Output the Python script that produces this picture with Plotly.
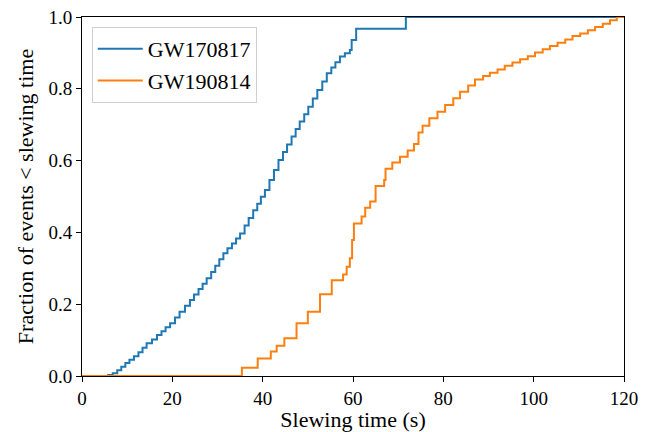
import plotly.graph_objects as go

# GW170817: step corners (slewing time s, cumulative fraction)
gw170817_t = [0, 4.8, 5.8, 6.8, 7.8, 8.7, 9.6, 10.5, 11.5, 12.5, 13.4, 14.3, 15.5, 16.6, 17.6, 18.5, 19.5,
              20.6, 21.6, 22.8, 23.9, 24.8, 25.8, 26.7, 27.6, 28.6, 29.5, 30.4, 31.3, 32.2, 33.2, 34.1, 35.0,
              36.0, 36.9, 37.9, 38.8, 39.6, 40.5, 41.5, 42.5, 43.5, 44.5, 45.4, 46.4, 47.3, 48.2, 49.2, 50.1,
              51.1, 52.1, 53.2, 54.2, 55.2, 56.1, 57.1, 58.2, 59.3, 59.7, 60.7, 71.7, 120]
gw170817_f = [0, 0, 0.003, 0.008, 0.016, 0.026, 0.036, 0.045, 0.055, 0.066, 0.079, 0.091, 0.102, 0.114, 0.125, 0.136, 0.147,
              0.163, 0.179, 0.196, 0.212, 0.227, 0.242, 0.257, 0.272, 0.290, 0.307, 0.325, 0.342, 0.356, 0.369, 0.383, 0.397,
              0.419, 0.440, 0.462, 0.480, 0.499, 0.518, 0.546, 0.574, 0.602, 0.624, 0.645, 0.667, 0.688, 0.709, 0.729, 0.750,
              0.773, 0.797, 0.820, 0.843, 0.859, 0.874, 0.890, 0.899, 0.908, 0.936, 0.967, 1.0, 1.0]

# GW190814
gw190814_t = [0, 35.4, 38.9, 41.8, 43.1, 44.8, 47.5, 50.0, 52.7, 55.3, 57.8, 58.6, 59.3, 59.8, 60.2,
              61.9, 62.7, 63.8, 65.0, 66.9, 67.2, 68.7, 70.4, 72.1, 73.5, 74.5, 75.4, 76.9, 78.7,
              80.4, 82.2, 83.7, 85.5, 87.0, 88.8, 90.3, 92.0, 93.6, 95.3, 97.0, 98.7, 100.3, 102.0,
              103.6, 105.3, 107.0, 108.6, 110.3, 112.0, 113.6, 115.3, 116.9, 118.4, 120]
gw190814_f = [0, 0.023, 0.049, 0.068, 0.084, 0.105, 0.147, 0.179, 0.228, 0.267, 0.283, 0.304, 0.328, 0.379, 0.425,
              0.444, 0.469, 0.486, 0.529, 0.546, 0.577, 0.595, 0.611, 0.628, 0.646, 0.678, 0.697, 0.718, 0.736,
              0.755, 0.774, 0.792, 0.809, 0.826, 0.836, 0.845, 0.854, 0.864, 0.873, 0.882, 0.891, 0.901, 0.910,
              0.919, 0.928, 0.937, 0.947, 0.954, 0.963, 0.972, 0.981, 0.991, 1.0, 1.0]

font = "Times New Roman, Liberation Serif, DejaVu Serif, serif"

fig = go.Figure()
fig.add_trace(go.Scatter(x=gw170817_t, y=gw170817_f, mode="lines", name="GW170817",
                         line=dict(color="#1f77b4", width=2, shape="hv")))
fig.add_trace(go.Scatter(x=gw190814_t, y=gw190814_f, mode="lines", name="GW190814",
                         line=dict(color="#ff7f0e", width=2, shape="hv")))

axis_style = dict(showgrid=False, zeroline=False, showline=True, linecolor="black", linewidth=1,
                  mirror=True, ticks="outside", ticklen=5, tickcolor="black", automargin=False,
                  tickfont=dict(family=font, size=19, color="black"))

fig.update_layout(
    width=651, height=432,
    margin=dict(l=82, r=27, t=17, b=56),
    plot_bgcolor="white", paper_bgcolor="white",
    font=dict(family=font, color="black"),
    xaxis=dict(range=[0, 120], dtick=20,
               title=dict(text="Slewing time (s)", font=dict(family=font, size=22), standoff=10),
               **axis_style),
    yaxis=dict(range=[0, 1], dtick=0.2, tickformat=".1f",
               title=dict(text="Fraction of events < slewing time", font=dict(family=font, size=22), standoff=8),
               **axis_style),
    legend=dict(x=0.018, y=0.972, xanchor="left", yanchor="top", bgcolor="white",
                bordercolor="#d0d0d0", borderwidth=1, itemwidth=45, tracegroupgap=0,
                font=dict(family=font, size=22)),
)

# drop the page's default body margin so the figure sits at the window's corner
fig.write_html("out.html", config={"displayModeBar": False},
               post_script="document.body.style.margin='0';")
